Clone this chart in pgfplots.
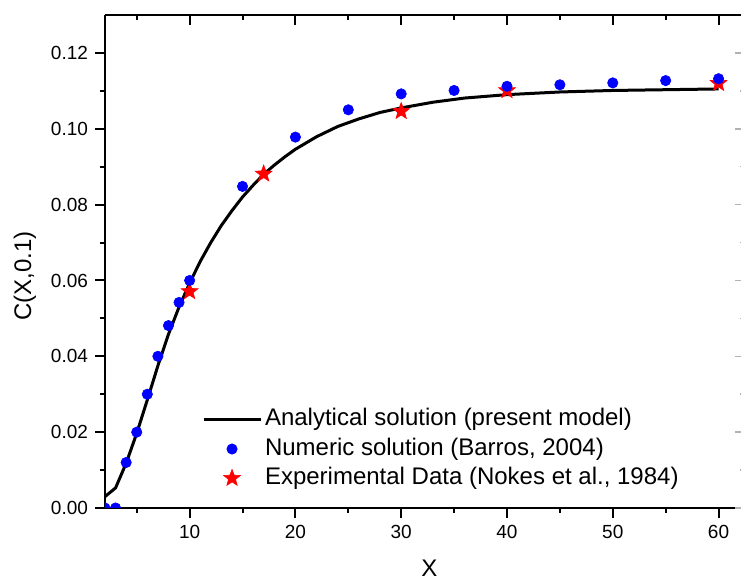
\documentclass[border=0pt]{standalone}
\usepackage{pgfplots}
\pgfplotsset{compat=1.18}
\usepackage{fontspec}
\setmainfont{Liberation Sans}

\pgfdeclareplotmark{fstar}{%
  \pgfpathmoveto{\pgfpointpolar{90}{\pgfplotmarksize}}%
  \pgfpathlineto{\pgfpointpolar{126}{0.42\pgfplotmarksize}}%
  \pgfpathlineto{\pgfpointpolar{162}{\pgfplotmarksize}}%
  \pgfpathlineto{\pgfpointpolar{198}{0.42\pgfplotmarksize}}%
  \pgfpathlineto{\pgfpointpolar{234}{\pgfplotmarksize}}%
  \pgfpathlineto{\pgfpointpolar{270}{0.42\pgfplotmarksize}}%
  \pgfpathlineto{\pgfpointpolar{306}{\pgfplotmarksize}}%
  \pgfpathlineto{\pgfpointpolar{342}{0.42\pgfplotmarksize}}%
  \pgfpathlineto{\pgfpointpolar{18}{\pgfplotmarksize}}%
  \pgfpathlineto{\pgfpointpolar{54}{0.42\pgfplotmarksize}}%
  \pgfpathclose
  \pgfusepathqfillstroke
}

\pgfplotsset{
  common/.style={
    at={(0,0)}, anchor=south west, scale only axis,
    width=320pt, height=246.5pt,
    xmin=2, xmax=62.5, ymin=0, ymax=0.13,
    axis line style={line width=1pt},
    major tick length=5pt, minor tick length=2.5pt,
    every tick/.style={black, line width=1pt},
    xtick={10,20,30,40,50,60}, minor xtick={5,15,25,35,45,55},
    ytick={0,0.02,0.04,0.06,0.08,0.10,0.12},
    minor ytick={0.01,0.03,0.05,0.07,0.09,0.11},
    scaled y ticks=false,
  }
}

\begin{document}
\begin{tikzpicture}
\begin{axis}[common,
  axis x line*=bottom, axis y line*=left,
  tick align=outside,
  clip marker paths=true,
  /pgf/number format/assume math mode=true,
  yticklabel style={/pgf/number format/.cd, fixed, fixed zerofill, precision=2},
  tick label style={font=\fontsize{9.5}{11}\selectfont},
  xlabel={X}, ylabel={C(X,0.1)},
  label style={font=\fontsize{12}{14}\selectfont},
  xlabel style={at={(rel axis cs:0.507,0)}, anchor=center, yshift=-30pt},
  ylabel style={at={(rel axis cs:0,0.47)}, anchor=center, yshift=40pt},
  legend cell align=left,
  legend image code/.code={\draw[mark repeat=2,mark phase=2,#1] plot coordinates {(0pt,0pt) (14.25pt,0pt) (28.5pt,0pt)};},
  legend style={at={(0.151,0.202)}, anchor=north west, draw=none, fill=none,
    inner sep=0pt, row sep=3.6pt,
    font=\fontsize{12}{14}\selectfont,
    nodes={inner sep=0pt, text height=8.5pt, text depth=2.5pt},
    /tikz/every odd column/.append style={column sep=1.5pt}},
]
\addplot[black, line width=1.5pt, line join=round] coordinates {
(2,0.0030) (3,0.0053) (4,0.0118) (5,0.0197) (6,0.0285) (7,0.0375)
(8,0.0458) (9,0.0530) (10,0.0593) (11,0.0650) (12,0.0700) (13,0.0745)
(14,0.0784) (15,0.0820) (16,0.0851) (17,0.0880) (18,0.0904) (19,0.0926)
(20,0.0946) (22,0.0979) (24,0.1006) (26,0.1026) (28,0.1043) (30,0.1055)
(33,0.1070) (36,0.1081) (40,0.1090) (45,0.1097) (50,0.1101) (55,0.1103)
(60,0.1105)
};
\addlegendentry{Analytical solution (present model)}
\addplot[only marks, mark=fstar, mark size=4.4pt, draw=red, fill=red, line width=0.3pt, forget plot] coordinates {
(10,0.0571) (17,0.0881) (30,0.1046) (40,0.1101) (60,0.1120)
};
\addplot[only marks, mark=*, mark size=2.6pt, draw=blue, fill=blue, line width=0.3pt] coordinates {
(2,0.0) (3,0.0) (4,0.0120) (5,0.0200) (6,0.0300) (7,0.0400) (8,0.0481)
(9,0.0542) (10,0.0600) (15,0.0848) (20,0.0978) (25,0.1050) (30,0.1092)
(35,0.1101) (40,0.1112) (45,0.1116) (50,0.1121) (55,0.1127) (60,0.1132)
};
\addlegendentry{Numeric solution (Barros, 2004)}
\addlegendimage{only marks, mark=fstar, mark size=4.4pt, draw=red, fill=red, line width=0.3pt}
\addlegendentry{Experimental Data (Nokes et al., 1984)}
\end{axis}
\begin{axis}[common,
  axis x line*=top, axis y line*=right,
  tick align=inside,
  every y tick/.style={gray!60, line width=0.8pt},
  xticklabels={}, yticklabels={},
]
\end{axis}
\pgfresetboundingbox
\path[use as bounding box] (-52.5pt,-35.5pt) rectangle (318pt,254pt);
\end{tikzpicture}
\end{document}
